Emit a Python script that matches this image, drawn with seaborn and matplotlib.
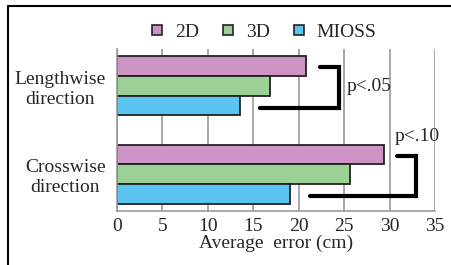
import pandas as pd
import seaborn as sns
import matplotlib.pyplot as plt
from matplotlib.lines import Line2D

# Data
directions = ["Lengthwise\ndirection", "Crosswise\ndirection"]
methods = ["2D", "3D", "MIOSS"]
err_2d = [20.8, 29.4]
err_3d = [16.8, 25.6]
err_mioss = [13.5, 19.0]
colors = ["#cc93c4", "#9bd194", "#5bc3ef"]

df = pd.DataFrame({
    "direction": directions * 3,
    "method": [m for m in methods for _ in directions],
    "error": err_2d + err_3d + err_mioss,
})

sns.set_style("white")
plt.rcParams["font.family"] = ["Liberation Serif", "DejaVu Serif"]

fig = plt.figure(figsize=(4.51, 2.65), dpi=100)
ax = fig.add_axes([0.259, 0.204, 0.7055, 0.611])

sns.barplot(data=df, x="error", y="direction", hue="method", orient="h",
            palette=colors, saturation=1, width=0.67, edgecolor="#222222",
            linewidth=1.3, ax=ax, legend=True)

ax.set_xlim(0, 35)
ax.set_xticks(range(0, 36, 5))
ax.set_xlabel("Average  error (cm)", fontsize=14, labelpad=0)
ax.set_ylabel("")
ax.tick_params(axis="x", labelsize=14, length=3, color="#888888", pad=2)
ax.tick_params(axis="y", labelsize=14, length=0, pad=8)
for lbl in ax.get_yticklabels():
    lbl.set_multialignment("center")
ax.set_yticks([-0.5, 0.5, 1.5], minor=True)
ax.tick_params(axis="y", which="minor", length=4, color="#888888")
ax.grid(axis="x", color="#9a9a9a", linewidth=1.2)
ax.set_axisbelow(True)
for s in ["top", "right"]:
    ax.spines[s].set_visible(False)
for s in ["left", "bottom"]:
    ax.spines[s].set_color("#999999")
    ax.spines[s].set_linewidth(1.2)

# significance brackets
ax.plot([22.3, 24.4, 24.4, 15.7], [-0.22, -0.22, 0.25, 0.25],
        color="black", linewidth=3, solid_joinstyle="miter", clip_on=False)
ax.text(25.3, 0.01, "p<.05", fontsize=14, va="center", ha="left")
ax.plot([30.8, 32.9, 32.9, 21.2], [0.79, 0.79, 1.25, 1.25],
        color="black", linewidth=3, solid_joinstyle="miter", clip_on=False)
ax.text(30.6, 0.57, "p<.10", fontsize=14, va="center", ha="left")

handles = [Line2D([], [], marker="s", linestyle="", markersize=6.5,
                  markerfacecolor=c, markeredgecolor="#222222", markeredgewidth=1.2)
           for c in colors]
ax.legend(handles, methods, loc="center", bbox_to_anchor=(0.456, 1.105),
          ncol=3, frameon=False, fontsize=14, handletextpad=0.4,
          handlelength=1.0, columnspacing=1.0, borderaxespad=0)

# outer frame (top and left edges visible)
fig.add_artist(Line2D([0.018, 1.0], [0.977, 0.977], color="black", linewidth=1.5))
fig.add_artist(Line2D([0.018, 0.018], [0.0, 0.977], color="black", linewidth=1.5))

fig.savefig("out.png", dpi=100)
